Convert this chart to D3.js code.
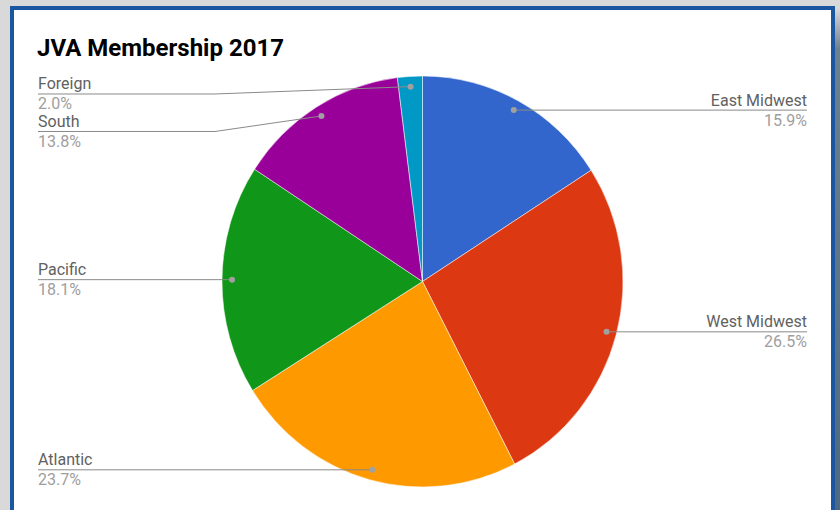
<!DOCTYPE html>
<html>
<head>
<meta charset="utf-8">
<script src="https://cdn.jsdelivr.net/npm/d3@7"></script>
<style>
  body { margin: 0; background: #d9d9d9; }
  svg { display: block; font-family: Roboto, "Noto Sans", sans-serif; }
</style>
</head>
<body>
<div id="chart"></div>
<script>
// data
var regions = ["East Midwest", "West Midwest", "Atlantic", "Pacific", "South", "Foreign"];
var shares = [15.9, 26.5, 23.7, 18.1, 13.8, 2.0];
var colors = ["#3366cc", "#dc3912", "#ff9900", "#109618", "#990099", "#0099c6"];
var title = "JVA Membership 2017";

var width = 840, height = 510;
var cx = 422.5, cy = 281.5, r = 200.5, stretch = 1.025;

var svg = d3.select("#chart").append("svg")
  .attr("width", width)
  .attr("height", height);

// frame: grey page, shadow at right, blue bordered card
var defs = svg.append("defs");
var grad = defs.append("linearGradient").attr("id", "shade")
  .attr("x1", 0).attr("y1", 0).attr("x2", 0).attr("y2", 1);
grad.append("stop").attr("offset", "0%").attr("stop-color", "#d9d9d9");
grad.append("stop").attr("offset", "8%").attr("stop-color", "#6d7f93");
grad.append("stop").attr("offset", "100%").attr("stop-color", "#4d6782");

svg.append("rect").attr("width", width).attr("height", height).attr("fill", "#d9d9d9");
svg.append("rect").attr("x", 835).attr("y", 8).attr("width", 5).attr("height", height)
  .attr("fill", "url(#shade)");
svg.append("rect")
  .attr("x", 12).attr("y", 8)
  .attr("width", 821).attr("height", 540)
  .attr("fill", "#fff")
  .attr("stroke", "#1a57a0")
  .attr("stroke-width", 4);

svg.append("text")
  .attr("x", 37).attr("y", 56)
  .attr("font-size", "24px")
  .attr("font-weight", "bold")
  .attr("fill", "#000")
  .text(title);

var data = regions.map(function(d, i) { return {name: d, value: shares[i], color: colors[i]}; });

var pie = d3.pie().value(d => d.value).sort(null);
var arcs = pie(data);
var arc = d3.arc().innerRadius(0).outerRadius(r);
var dotArc = d3.arc().innerRadius(r * 0.95).outerRadius(r * 0.95);

var pieG = svg.append("g")
  .attr("transform", "translate(" + cx + "," + cy + ") scale(1," + stretch + ")");
pieG.selectAll("path")
  .data(arcs)
  .enter()
  .append("path")
    .attr("d", arc)
    .attr("fill", d => d.data.color)
    .attr("stroke", "#fff")
    .attr("stroke-width", 0.5);

// label placement (left / right of pie, pushed apart where they collide)
var pieTop = cy - r * stretch;
var gap = 37.5;
var labels = arcs.map(function(a) {
  var c = dotArc.centroid(a);
  var mid = (a.startAngle + a.endAngle) / 2;
  return {
    name: a.data.name,
    value: a.data.value,
    dx: cx + c[0],
    dy: cy + c[1] * stretch,
    right: mid < Math.PI
  };
});
[true, false].forEach(function(side) {
  var list = labels.filter(d => d.right === side).sort((a, b) => a.dy - b.dy);
  var prev = -Infinity;
  list.forEach(function(d) {
    d.ly = Math.max(d.dy, prev + gap, pieTop + 18);
    prev = d.ly;
  });
});

var textLeft = 38, textRight = 807;
var lg = svg.append("g");
labels.forEach(function(d) {
  var tx = d.right ? textRight : textLeft;
  var elbow = d.right ? cx + r + 7 : cx - r - 7;
  var pts = Math.abs(d.ly - d.dy) > 2
    ? [[tx, d.ly], [elbow, d.ly], [d.dx, d.dy]]
    : [[tx, d.ly], [d.dx, d.dy]];
  lg.append("path")
    .attr("d", d3.line()(pts))
    .attr("fill", "none")
    .attr("stroke", "#8a8a8a")
    .attr("stroke-width", 1);
  lg.append("circle")
    .attr("cx", d.dx).attr("cy", d.dy).attr("r", 3)
    .attr("fill", "#a0a0a0");
  lg.append("text")
    .attr("x", tx).attr("y", d.ly - 4.5)
    .attr("text-anchor", d.right ? "end" : "start")
    .attr("font-size", "16px")
    .attr("fill", "#616161")
    .text(d.name);
  lg.append("text")
    .attr("x", tx).attr("y", d.ly + 15.5)
    .attr("text-anchor", d.right ? "end" : "start")
    .attr("font-size", "16px")
    .attr("fill", "#9e9e9e")
    .text(d.value.toFixed(1) + "%");
});
</script>
</body>
</html>
